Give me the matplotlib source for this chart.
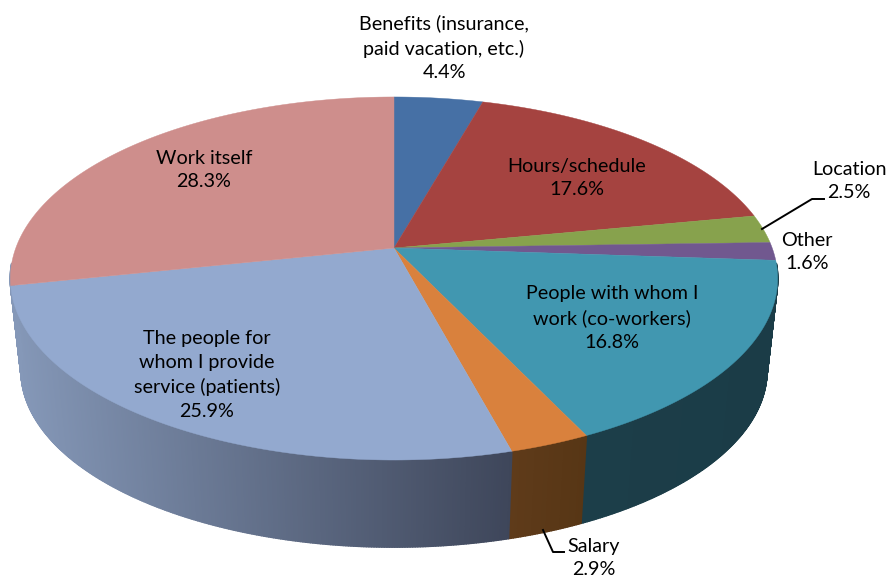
"""
3D style pie chart of what people like most about their job
"""
import matplotlib
matplotlib.use("Agg")
import matplotlib.pyplot as plt
import numpy as np
from matplotlib.collections import PolyCollection
from matplotlib.colors import to_rgb

plt.rcParams['font.family'] = ['Lato', 'DejaVu Sans']

labels = ["Benefits (insurance,\npaid vacation, etc.)", "Hours/schedule", "Location", "Other",
          "People with whom I\nwork (co-workers)", "Salary",
          "The people for\nwhom I provide\nservice (patients)", "Work itself"]
values = [4.4, 17.6, 2.5, 1.6, 16.8, 2.9, 25.9, 28.3]
top_colors = ["#4670A5", "#A54340", "#87A24D", "#71588F", "#4197B0", "#D9813D", "#93A9CF", "#CE8E8C"]
# only the front of the disc shows a wall
wall_left = ["#2A4466", "#662825", "#53632E", "#1C3E49", "#1C3E49", "#5F3B1A", "#8598B8", "#8598B8"]
wall_right = ["#2A4466", "#662825", "#53632E", "#1C3E49", "#1B3C47", "#573615", "#3E465A", "#8598B8"]
label_pos = [(444, 48), (577, 178), (849, 181), (807, 252), (612, 318), (594, 558), (207, 375), (204, 170)]

# perspective of the disc, in pixels
APEX_X, APEX_Y = 394, 248
RX, RY, K = 378.2, 176.4, 0.168
LOWER_APEX_Y, LOWER_SCALE = 341, 0.972
WALL_FROM, WALL_TO = 95, 265


def rim(theta, apex_y=APEX_Y, scale=1.0):
    # theta in degrees, clockwise from the top
    t = np.radians(theta)
    w = 1 + K * np.cos(t)
    x = APEX_X + scale * RX * np.sin(t) / w
    y = apex_y - scale * RY * np.cos(t) / w
    return x, y


fig = plt.figure(figsize=(8.88, 5.8), dpi=100)
ax = fig.add_axes([0, 0, 1, 1])
ax.set_xlim(0, 888)
ax.set_ylim(580, 0)
ax.axis('off')

edges = np.cumsum([0] + values) * 3.6

# side wall, split in thin strips for the gradient
for i in range(len(values)):
    start, stop = max(edges[i], WALL_FROM), min(edges[i + 1], WALL_TO)
    if stop <= start:
        continue
    steps = max(int((stop - start) * 3), 2)
    th = np.linspace(start, stop, steps + 1)
    x1, y1 = rim(th)
    x2, y2 = rim(th, LOWER_APEX_Y, LOWER_SCALE)
    quads, cols = [], []
    c_left, c_right = np.array(to_rgb(wall_left[i])), np.array(to_rgb(wall_right[i]))
    x_lo, x_hi = x1.min(), x1.max()
    for j in range(steps):
        quads.append([(x1[j], y1[j]), (x1[j + 1], y1[j + 1]), (x2[j + 1], y2[j + 1]), (x2[j], y2[j])])
        f = ((x1[j] + x1[j + 1]) / 2 - x_lo) / (x_hi - x_lo)
        cols.append(c_left + (c_right - c_left) * f)
    ax.add_collection(PolyCollection(quads, facecolors=cols, edgecolors='face', linewidths=1.2, zorder=2))

# top face
for i, color in enumerate(top_colors):
    th = np.linspace(edges[i], edges[i + 1], 120)
    x, y = rim(th)
    ax.fill(np.r_[APEX_X, x], np.r_[APEX_Y, y], color=color, lw=0.3, zorder=3)

# leader lines
ax.plot([762, 812, 824], [229, 199, 199], color='black', lw=1.4, zorder=4)
ax.plot([543, 553, 564], [530, 552, 552], color='black', lw=1.4, zorder=4)

for name, val, (px, py) in zip(labels, values, label_pos):
    ax.text(px, py, f"{name}\n{val:.1f}%", ha='center', va='center', ma='center',
            fontsize=14.2, linespacing=1.48, color='black', zorder=5)

fig.savefig("out.png", dpi=100)
